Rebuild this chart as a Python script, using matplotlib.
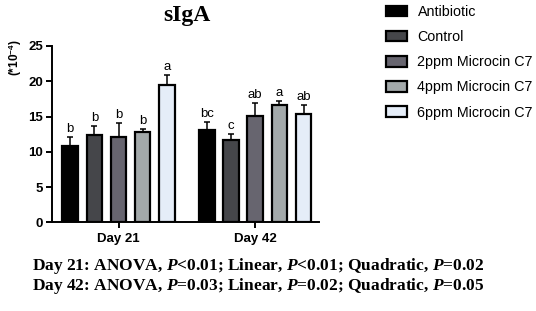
import numpy as np
import matplotlib
matplotlib.use("Agg")
import matplotlib.pyplot as plt
from matplotlib.patches import Patch

plt.rcParams['font.family'] = ['Liberation Sans', 'DejaVu Sans']
plt.rcParams['mathtext.fontset'] = 'custom'
plt.rcParams['mathtext.rm'] = 'Liberation Sans:bold'
plt.rcParams['mathtext.bf'] = 'Liberation Sans:bold'
plt.rcParams['mathtext.it'] = 'Liberation Serif:italic:bold'

# data
days = ["Day 21", "Day 42"]
groups = ["Antibiotic", "Control", "2ppm Microcin C7", "4ppm Microcin C7", "6ppm Microcin C7"]
means = {
    "Day 21": [10.8, 12.4, 12.1, 12.8, 19.5],
    "Day 42": [13.1, 11.6, 15.1, 16.7, 15.4],
}
errs = {
    "Day 21": [1.3, 1.3, 2.0, 0.4, 1.4],
    "Day 42": [1.1, 0.9, 1.8, 0.5, 1.2],
}
letters = {
    "Day 21": ["b", "b", "b", "b", "a"],
    "Day 42": ["bc", "c", "ab", "a", "ab"],
}
colors = ["#000000", "#45464a", "#67656f", "#a3a9aa", "#e5edf8"]
stats_lines = [
    r"Day 21: ANOVA, $\mathit{P}$<0.01; Linear, $\mathit{P}$<0.01; Quadratic, $\mathit{P}$=0.02",
    r"Day 42: ANOVA, $\mathit{P}$=0.03; Linear, $\mathit{P}$=0.02; Quadratic, $\mathit{P}$=0.05",
]

fig = plt.figure(figsize=(5.36, 3.11), dpi=100)
ax = fig.add_axes([52 / 536, 88.7 / 311, (319 - 52) / 536, (222.3 - 46) / 311])

centers = [0.0, 5.65]
width = 0.64
for d, c in zip(days, centers):
    xs = c + np.arange(-2, 3)
    ax.bar(xs, means[d], width=width, color=colors, edgecolor="black",
           linewidth=1.6, zorder=3)
    ax.errorbar(xs, means[d], yerr=[np.zeros(5), errs[d]], fmt="none",
                ecolor="black", elinewidth=1.1, capsize=2.5, capthick=1.1, zorder=2)
    for x, m, e, t in zip(xs, means[d], errs[d], letters[d]):
        ax.annotate(t, (x, m + e), xytext=(0, 1.5), textcoords="offset points",
                    ha="center", va="bottom", fontsize=9.5)

ax.set_xlim(-2.75, 8.29)
ax.set_ylim(0, 25)
ax.set_yticks([0, 5, 10, 15, 20, 25])
ax.set_xticks(centers)
ax.set_xticklabels(days)
for lab in ax.get_xticklabels() + ax.get_yticklabels():
    lab.set_fontweight("bold")
    lab.set_fontsize(9.5)
ax.tick_params(axis="both", width=1.4, length=4.5, pad=2)
ax.tick_params(axis="x", pad=3.5)
ax.spines["top"].set_visible(False)
ax.spines["right"].set_visible(False)
ax.spines["left"].set_linewidth(1.4)
ax.spines["bottom"].set_linewidth(1.4)

fig.text(187 / 536, 1 - 16 / 311, "sIgA", family="Liberation Serif",
         fontweight="bold", fontsize=17, ha="center", va="center")
fig.text(15 / 536, 1 - 58 / 311, r"(*10$^{-4}$)", rotation=90,
         fontweight="bold", fontsize=8.5, ha="center", va="center")

handles = [Patch(facecolor=col, edgecolor="black", linewidth=1.6) for col in colors]
fig.legend(handles, groups, loc="upper left", bbox_to_anchor=(386 / 536, 1 - 5 / 311),
           frameon=False, fontsize=10.3, handlelength=1.45, handleheight=0.75,
           handletextpad=0.75, labelspacing=0.78, borderpad=0, borderaxespad=0)

fig.text(258 / 536, 1 - 276 / 311, "\n".join(stats_lines), family="Liberation Serif",
         fontweight="bold", fontsize=12.5, ha="center", va="center",
         multialignment="center", linespacing=1.05)

fig.savefig("out.png", dpi=100)
